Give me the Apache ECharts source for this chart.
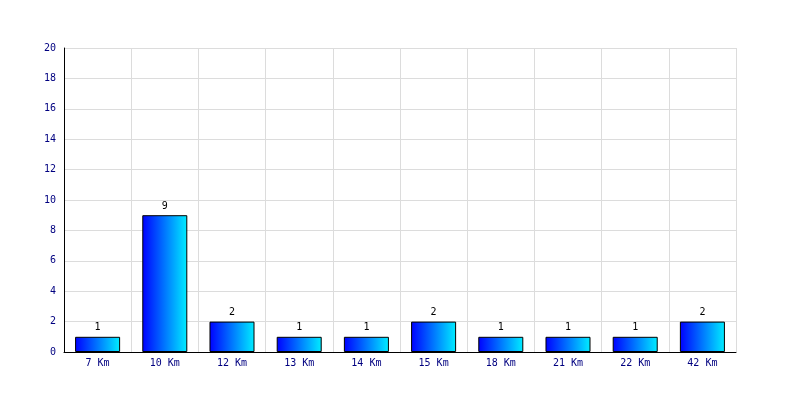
<!DOCTYPE html>
<html>
<head>
<meta charset="utf-8">
<script src="https://cdn.jsdelivr.net/npm/echarts@6/dist/echarts.min.js"></script>
<style>html,body{margin:0;padding:0;background:#fff}#c{width:800px;height:400px}</style>
</head>
<body>
<div id="c"></div>
<script>
var categories = ['7 Km','10 Km','12 Km','13 Km','14 Km','15 Km','18 Km','21 Km','22 Km','42 Km'];
var values = [1, 9, 2, 1, 1, 2, 1, 1, 1, 2];
var yMin = 0, yMax = 20, yStep = 2;

var chart = echarts.init(document.getElementById('c'), null, {renderer:'canvas'});
var font = '"DejaVu Sans Mono", monospace';
chart.setOption({
  animation: false,
  backgroundColor: '#ffffff',
  grid: {left: 64, right: 64, top: 48, bottom: 48, show: false},
  xAxis: {
    type: 'category',
    data: categories,
    boundaryGap: true,
    axisLine: {show: true, lineStyle: {color: '#000', width: 1}},
    axisTick: {show: false},
    axisLabel: {color: '#000080', fontFamily: font, fontSize: 10, margin: 6},
    splitLine: {show: true, lineStyle: {color: '#dcdcdc', width: 1}}
  },
  yAxis: {
    type: 'value',
    min: yMin, max: yMax, interval: yStep,
    axisLine: {show: true, lineStyle: {color: '#000', width: 1}},
    axisTick: {show: false},
    axisLabel: {color: '#000080', fontFamily: font, fontSize: 10, margin: 8},
    splitLine: {show: true, lineStyle: {color: '#dcdcdc', width: 1}}
  },
  series: [{
    type: 'bar',
    data: values,
    barCategoryGap: '33%',
    itemStyle: {
      color: new echarts.graphic.LinearGradient(0, 0, 1, 0, [
        {offset: 0, color: '#0000ff'},
        {offset: 1, color: '#00eeff'}
      ]),
      borderColor: '#000',
      borderWidth: 1
    },
    label: {show: true, position: 'top', color: '#000', fontFamily: font, fontSize: 10, distance: 4}
  }]
});
</script>
</body>
</html>
